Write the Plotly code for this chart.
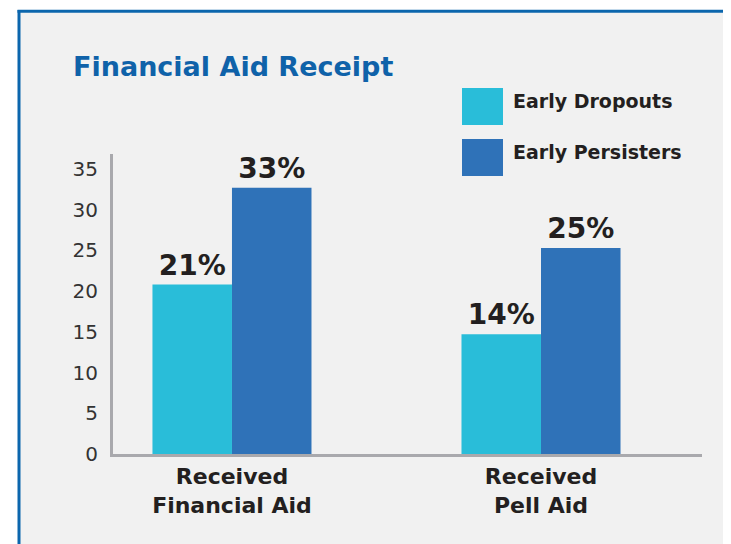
import plotly.graph_objects as go

# ---- data ----
categories = ["Received<br>Financial Aid", "Received<br>Pell Aid"]
series_names = ["Early Dropouts", "Early Persisters"]
dropouts = [20.8, 14.7]
persisters = [32.7, 25.3]
dropouts_text = ["21%", "14%"]
persisters_text = ["33%", "25%"]
y_ticks = [0, 5, 10, 15, 20, 25, 30, 35]
colors = ["#29bdd9", "#2f72b8"]

# page body has an 8px margin; work in window pixel coordinates
OFF = 8
WIN_W, WIN_H = 731, 544
W, H = WIN_W - OFF, WIN_H - OFF
PLOT_L, PLOT_R, PLOT_T, PLOT_B = 113, 702, 154, 454  # window px
ML, MR = PLOT_L - OFF, WIN_W - PLOT_R
MT, MB = PLOT_T - OFF, WIN_H - PLOT_B
PW, PH = PLOT_R - PLOT_L, PLOT_B - PLOT_T


def px_x(p):
    return (p - PLOT_L) / PW


def px_y(p):
    return (PLOT_B - p) / PH


FONT = "DejaVu Sans"
DARK = "#231f20"
FRAME = "#0b66ad"

fig = go.Figure()
for name, vals, txt, col in [
    (series_names[0], dropouts, dropouts_text, colors[0]),
    (series_names[1], persisters, persisters_text, colors[1]),
]:
    fig.add_trace(go.Bar(
        x=categories, y=vals, name=name, text=txt,
        textposition="outside", constraintext="none", cliponaxis=False,
        textfont=dict(family=FONT, size=28, color=DARK, weight="bold"),
        marker=dict(color=col, line=dict(width=0)),
        showlegend=False,
    ))

shapes = [
    dict(type="rect", xref="paper", yref="paper", layer="below",
         x0=px_x(19), x1=px_x(WIN_W + 20), y0=px_y(11.3), y1=px_y(WIN_H + 20),
         fillcolor="#f1f1f1", line=dict(width=0)),
    dict(type="line", xref="paper", yref="paper",
         x0=px_x(17.5), x1=px_x(WIN_W + 20), y0=px_y(11.3), y1=px_y(11.3),
         line=dict(color=FRAME, width=3)),
    dict(type="line", xref="paper", yref="paper",
         x0=px_x(19), x1=px_x(19), y0=px_y(10), y1=px_y(WIN_H + 20),
         line=dict(color=FRAME, width=3)),
]
annotations = [
    dict(text="<b>Financial Aid Receipt</b>", xref="paper", yref="paper",
         x=px_x(71), y=px_y(67), xanchor="left", yanchor="middle",
         showarrow=False, font=dict(family=FONT, size=27, color="#0f62a9")),
]
leg_tops = [88, 139]
for i, name in enumerate(series_names):
    t = leg_tops[i]
    shapes.append(dict(type="rect", xref="paper", yref="paper",
                       x0=px_x(462), x1=px_x(503), y0=px_y(t), y1=px_y(t + 37),
                       fillcolor=colors[i], line=dict(width=0)))
    annotations.append(dict(text="<b>%s</b>" % name, xref="paper", yref="paper",
                            x=px_x(511), y=px_y(t + 13), xanchor="left", yanchor="middle",
                            showarrow=False, font=dict(family=FONT, size=19, color=DARK)))

fig.update_layout(
    width=W, height=H,
    margin=dict(l=ML, r=MR, t=MT, b=MB, autoexpand=False),
    paper_bgcolor="#f1f1f1", plot_bgcolor="#f1f1f1",
    barmode="group", bargap=0.4854, bargroupgap=0,
    shapes=shapes, annotations=annotations,
    xaxis=dict(range=[-0.385, 1.521], showgrid=False, zeroline=False,
               showline=True, linecolor="#a9a9ad", linewidth=3,
               ticks="", ticklabelstandoff=1,
               tickfont=dict(family=FONT, size=22, color=DARK, weight="bold")),
    yaxis=dict(range=[0, 36.83], tickvals=y_ticks, showgrid=False, zeroline=False,
               showline=True, linecolor="#a9a9ad", linewidth=3,
               ticks="", ticklabelstandoff=8,
               tickfont=dict(family=FONT, size=20, color="#333333")),
)
# white strip above / left of the frame
fig.add_shape(type="rect", xref="paper", yref="paper", layer="below",
              x0=px_x(-20), x1=px_x(WIN_W + 20), y0=px_y(11.3), y1=px_y(-20),
              fillcolor="white", line=dict(width=0))
fig.add_shape(type="rect", xref="paper", yref="paper", layer="below",
              x0=px_x(-20), x1=px_x(19), y0=px_y(-20), y1=px_y(WIN_H + 20),
              fillcolor="white", line=dict(width=0))

fig.write_html(
    "out.html",
    post_script="document.documentElement.style.overflow='hidden';"
                "document.body.style.overflow='hidden';",
)
